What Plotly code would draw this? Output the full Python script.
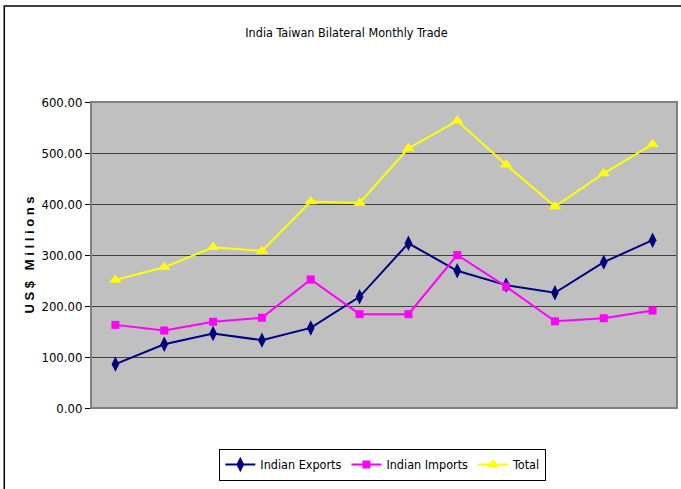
import plotly.graph_objects as go

months = ["Apr", "May", "Jun", "Jul", "Aug", "Sep", "Oct", "Nov", "Dec", "Jan", "Feb", "Mar"]
indian_exports = [86, 125, 146, 133, 157, 218, 323, 269, 241, 226, 286, 329]
indian_imports = [163, 152, 169, 177, 252, 184, 184, 300, 238, 170, 176, 191]
total = [251, 276, 315, 308, 405, 402, 509, 563, 477, 395, 460, 517]
y_ticks = [0, 100, 200, 300, 400, 500, 600]

FONT = "DejaVu Sans Condensed, Liberation Sans Narrow, Arial Narrow, Liberation Sans, sans-serif"

fig = go.Figure()
fig.add_trace(go.Scatter(x=months, y=indian_exports, name="Indian Exports", mode="lines+markers",
                         line=dict(color="#000080", width=2),
                         marker=dict(symbol="diamond-tall", size=11, color="#000080")))
fig.add_trace(go.Scatter(x=months, y=indian_imports, name="Indian Imports", mode="lines+markers",
                         line=dict(color="#FF00FF", width=2),
                         marker=dict(symbol="square", size=8, color="#FF00FF")))
fig.add_trace(go.Scatter(x=months, y=total, name="Total", mode="lines+markers",
                         line=dict(color="#FFFF00", width=2),
                         marker=dict(symbol="triangle-up", size=11, color="#FFFF00")))

fig.update_layout(
    width=681, height=489,
    margin=dict(l=91, r=4, t=102, b=81, autoexpand=False),
    paper_bgcolor="white",
    plot_bgcolor="#C0C0C0",
    font=dict(family=FONT, size=13, color="black"),
    title=dict(text="India Taiwan Bilateral Monthly Trade", x=0.436, xanchor="center",
               xref="paper",
               y=1 - 33 / 489, yanchor="middle", font=dict(family=FONT, size=12.5, color="black")),
    xaxis=dict(showticklabels=False, showgrid=False, zeroline=False, ticks="",
               showline=False, range=[-0.5, 11.5]),
    yaxis=dict(range=[0, 600], tickvals=y_ticks, ticktext=[f"{v:.2f}" for v in y_ticks],
               showgrid=True, gridcolor="#404040", gridwidth=1, zeroline=False,
               showline=True, linecolor="black", linewidth=1, ticks="outside", ticklen=5,
               tickcolor="black", ticklabelstandoff=0, automargin=False,
               tickfont=dict(family=FONT, size=13),
               title=dict(text="U S $   M i l l i o n s", standoff=3,
                          font=dict(family="Liberation Sans, Arial, sans-serif", size=13, color="black", weight="bold"))),
    legend=dict(orientation="h", x=0.498, y=-0.186, xanchor="center", yanchor="middle",
                bordercolor="black", borderwidth=1, bgcolor="white",
                font=dict(family=FONT, size=12.5), itemwidth=30, tracegroupgap=0),
    showlegend=True,
)

# plot-area border
fig.add_shape(type="rect", xref="paper", yref="paper", x0=0, y0=0, x1=1, y1=1,
              line=dict(color="#808080", width=2), layer="above")
# chart-area border
fig.add_shape(type="rect", xref="paper", yref="paper", x0=-0.148, y0=-0.35, x1=1.1, y1=1.3137,
              line=dict(color="black", width=1.5), layer="below")

fig.write_html("out.html", config={"displayModeBar": False},
               post_script="document.body.style.margin='0';")
